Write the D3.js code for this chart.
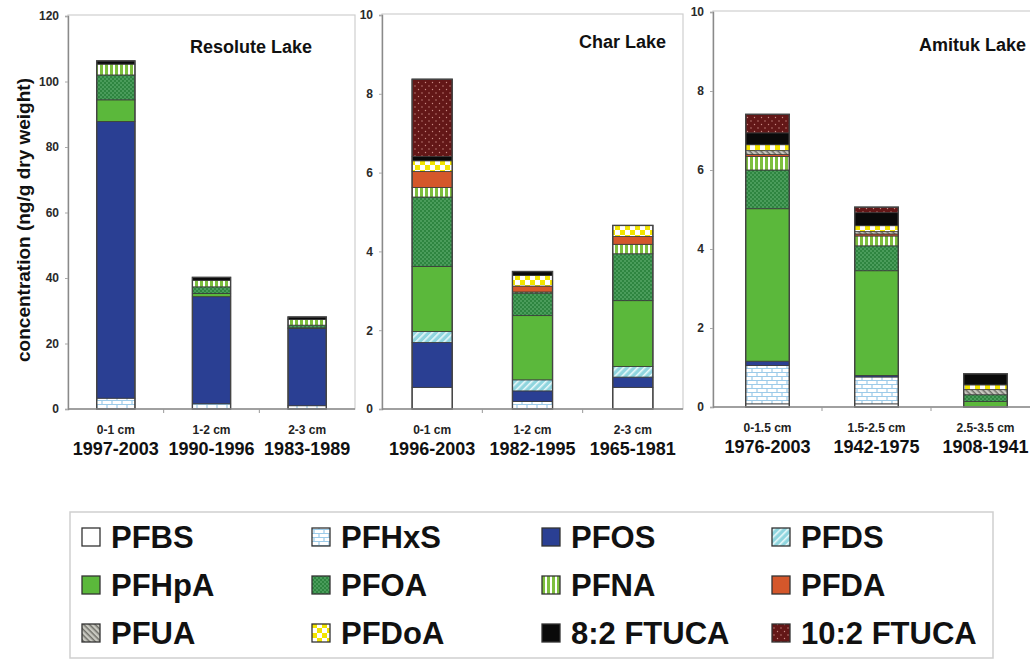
<!DOCTYPE html>
<html>
<head>
<meta charset="utf-8">
<script src="https://cdn.jsdelivr.net/npm/d3@7"></script>
<style>
  body { margin: 0; background: #fff; }
  text { font-family: "Liberation Sans", Arial, sans-serif; font-weight: bold; }
</style>
</head>
<body>
<div id="chart"></div>
<script>
// compounds, bottom to top of each stack
var compounds = ["PFBS", "PFHxS", "PFOS", "PFDS", "PFHpA", "PFOA", "PFNA", "PFDA", "PFUA", "PFDoA", "8:2 FTUCA", "10:2 FTUCA"];

// Resolute Lake
var resoluteDepths = ["0-1 cm", "1-2 cm", "2-3 cm"];
var resoluteYears = ["1997-2003", "1990-1996", "1983-1989"];
var resoluteValues = [
  [0, 3.3, 84.5, 0, 6.6, 7.6, 3.3, 0, 0, 0, 1.0, 0],
  [0, 1.6, 32.7, 0, 1.0, 2.0, 2.0, 0, 0, 0, 0.9, 0],
  [0, 1.0, 23.6, 0, 0.2, 0.8, 1.7, 0, 0, 0, 0.8, 0]
];

// Char Lake
var charDepths = ["0-1 cm", "1-2 cm", "2-3 cm"];
var charYears = ["1996-2003", "1982-1995", "1965-1981"];
var charValues = [
  [0.55, 0, 1.14, 0.28, 1.65, 1.76, 0.24, 0.41, 0, 0.27, 0.11, 1.96],
  [0, 0.19, 0.27, 0.28, 1.63, 0.57, 0.03, 0.15, 0, 0.27, 0.10, 0],
  [0.55, 0, 0.26, 0.27, 1.67, 1.19, 0.24, 0.20, 0, 0.28, 0, 0]
];

// Amituk Lake
var amitukDepths = ["0-1.5 cm", "1.5-2.5 cm", "2.5-3.5 cm"];
var amitukYears = ["1976-2003", "1942-1975", "1908-1941"];
var amitukValues = [
  [0.08, 0.97, 0.11, 0, 3.86, 0.98, 0.34, 0.05, 0.10, 0.15, 0.30, 0.47],
  [0.08, 0.68, 0.04, 0, 2.65, 0.63, 0.25, 0.05, 0.06, 0.15, 0.33, 0.14],
  [0, 0, 0, 0, 0.14, 0.17, 0, 0, 0.13, 0.12, 0.28, 0]
];

var ticks120 = [0, 20, 40, 60, 80, 100, 120];
var ticks10 = [0, 2, 4, 6, 8, 10];

var svgWidth = 1030;
var svgHeight = 660;

var svg = d3.select("#chart")
  .append("svg")
  .attr("width", svgWidth)
  .attr("height", svgHeight);

// fill patterns
var defs = svg.append("defs");

function pattern(id, w, h) {
  return defs.append("pattern")
    .attr("id", id)
    .attr("patternUnits", "userSpaceOnUse")
    .attr("width", w)
    .attr("height", h);
}

// PFHxS brick
var p = pattern("pfhxs", 10, 8);
p.append("rect").attr("width", 10).attr("height", 8).attr("fill", "#fff");
p.append("path").attr("d", "M0,0.5H10M0,4.5H10M2,0.5V4.5M7,4.5V8").attr("stroke", "#9ccbe9").attr("stroke-width", 1.2);

// PFDS diagonal
p = pattern("pfds", 5, 5).attr("patternTransform", "rotate(-45)");
p.append("rect").attr("width", 5).attr("height", 5).attr("fill", "#8fd5de");
p.append("rect").attr("width", 5).attr("height", 1.6).attr("fill", "#e8f8fa");

// PFOA dots
p = pattern("pfoa", 4, 4);
p.append("rect").attr("width", 4).attr("height", 4).attr("fill", "#2e8540");
p.append("circle").attr("cx", 1).attr("cy", 1).attr("r", 0.7).attr("fill", "#7cc48a");
p.append("circle").attr("cx", 3).attr("cy", 3).attr("r", 0.7).attr("fill", "#7cc48a");

// PFNA vertical stripes
p = pattern("pfna", 5, 5);
p.append("rect").attr("width", 5).attr("height", 5).attr("fill", "#fff");
p.append("rect").attr("width", 3).attr("height", 5).attr("fill", "#7dbf3e");

// PFUA diagonal gray
p = pattern("pfua", 4, 4).attr("patternTransform", "rotate(45)");
p.append("rect").attr("width", 4).attr("height", 4).attr("fill", "#c8c8c0");
p.append("rect").attr("width", 4).attr("height", 1.5).attr("fill", "#6f6f68");

// PFDoA checker
p = pattern("pfdoa", 10, 10);
p.append("rect").attr("width", 10).attr("height", 10).attr("fill", "#fff");
p.append("rect").attr("width", 5).attr("height", 5).attr("fill", "#f2e400");
p.append("rect").attr("x", 5).attr("y", 5).attr("width", 5).attr("height", 5).attr("fill", "#f2e400");

// 10:2 FTUCA dots
p = pattern("ft102", 7, 7);
p.append("rect").attr("width", 7).attr("height", 7).attr("fill", "#631717");
p.append("circle").attr("cx", 2).attr("cy", 2).attr("r", 0.7).attr("fill", "#c98a84");
p.append("circle").attr("cx", 5.5).attr("cy", 5.5).attr("r", 0.7).attr("fill", "#c98a84");

var fills = ["#ffffff", "url(#pfhxs)", "#2a3f93", "url(#pfds)", "#5bb83b", "url(#pfoa)",
  "url(#pfna)", "#d4572b", "url(#pfua)", "url(#pfdoa)", "#0a0a0a", "url(#ft102)"];

var color = d3.scaleOrdinal().domain(compounds).range(fills);

var panels = [
  { title: "Resolute Lake", depths: resoluteDepths, years: resoluteYears, values: resoluteValues,
    max: 120, ticks: ticks120, x0: 68, x1: 355, top: 16, bottom: 409, titleX: 190, titleY: 53, anchor: "start" },
  { title: "Char Lake", depths: charDepths, years: charYears, values: charValues,
    max: 10, ticks: ticks10, x0: 382, x1: 683, top: 15, bottom: 409, titleX: 666, titleY: 48, anchor: "end" },
  { title: "Amituk Lake", depths: amitukDepths, years: amitukYears, values: amitukValues,
    max: 10, ticks: ticks10, x0: 713, x1: 1040, top: 12, bottom: 407, titleX: 1026, titleY: 51, anchor: "end" }
];

panels.forEach(function(pn) {
  var g = svg.append("g");

  var x = d3.scaleBand()
    .domain(pn.depths)
    .range([pn.x0, pn.x1])
    .paddingInner(0.6)
    .paddingOuter(0.3);

  var y = d3.scaleLinear()
    .domain([0, pn.max])
    .range([pn.bottom, pn.top]);

  // frame
  g.append("rect")
    .attr("x", pn.x0)
    .attr("y", pn.top - 1)
    .attr("width", pn.x1 - pn.x0)
    .attr("height", pn.bottom - pn.top + 1)
    .attr("fill", "none")
    .attr("stroke", "#cfcfcf")
    .attr("stroke-width", 1.2);

  var rows = pn.values.map(function(v, i) {
    var r = { depth: pn.depths[i] };
    compounds.forEach(function(c, j) { r[c] = v[j]; });
    return r;
  });

  var series = d3.stack().keys(compounds)(rows);

  g.selectAll("g.layer")
    .data(series)
    .enter()
    .append("g")
    .attr("class", "layer")
    .attr("fill", d => color(d.key))
    .selectAll("rect")
    .data(d => d.filter(s => s[1] - s[0] > 0))
    .enter()
    .append("rect")
    .attr("x", d => x(d.data.depth))
    .attr("width", x.bandwidth())
    .attr("y", d => y(d[1]))
    .attr("height", d => y(d[0]) - y(d[1]))
    .attr("stroke", "#3a3a3a")
    .attr("stroke-width", 0.8);

  // outline of whole bar
  g.selectAll("rect.outline")
    .data(series[series.length - 1])
    .enter()
    .append("rect")
    .attr("class", "outline")
    .attr("x", d => x(d.data.depth))
    .attr("width", x.bandwidth())
    .attr("y", d => y(d[1]))
    .attr("height", d => y(0) - y(d[1]))
    .attr("fill", "none")
    .attr("stroke", "#444")
    .attr("stroke-width", 1.4);

  // y axis
  var yAxis = d3.axisLeft(y).tickValues(pn.ticks).tickSize(3).tickPadding(6);
  var ya = g.append("g")
    .attr("transform", `translate(${pn.x0}, 0)`)
    .call(yAxis);
  ya.select(".domain").attr("stroke", "#8a8a8a").attr("stroke-width", 1.4);
  ya.selectAll(".tick line").attr("stroke", "#aaa");
  ya.selectAll(".tick text")
    .attr("fill", "#2a2a2a")
    .style("font-size", "12px")
    .style("font-family", "'Liberation Sans', Arial, sans-serif")
    .style("font-weight", "bold");

  // x axis baseline with boundary ticks
  g.append("line")
    .attr("x1", pn.x0).attr("x2", pn.x1)
    .attr("y1", pn.bottom).attr("y2", pn.bottom)
    .attr("stroke", "#8a8a8a").attr("stroke-width", 1.4);
  g.selectAll("line.bound")
    .data(pn.depths.slice(1))
    .enter()
    .append("line")
    .attr("class", "bound")
    .attr("x1", d => x(d) - x.step() * x.paddingInner() / 2)
    .attr("x2", d => x(d) - x.step() * x.paddingInner() / 2)
    .attr("y1", pn.bottom).attr("y2", pn.bottom + 4)
    .attr("stroke", "#999");

  // category labels
  g.selectAll("text.depth")
    .data(pn.depths)
    .enter()
    .append("text")
    .attr("class", "depth")
    .attr("x", d => x(d) + x.bandwidth() / 2)
    .attr("y", pn.bottom + 25)
    .attr("text-anchor", "middle")
    .style("font-size", "12px")
    .attr("fill", "#222")
    .text(d => d);

  g.selectAll("text.year")
    .data(pn.years)
    .enter()
    .append("text")
    .attr("class", "year")
    .attr("x", (d, i) => x(pn.depths[i]) + x.bandwidth() / 2)
    .attr("y", pn.bottom + 46)
    .attr("text-anchor", "middle")
    .style("font-size", "18px")
    .attr("fill", "#111")
    .text(d => d);

  // lake title
  g.append("text")
    .attr("x", pn.titleX)
    .attr("y", pn.titleY)
    .attr("text-anchor", pn.anchor)
    .style("font-size", "18px")
    .attr("fill", "#111")
    .text(pn.title);
});

// y axis label
svg.append("text")
  .attr("transform", "translate(30, 220) rotate(-90)")
  .attr("text-anchor", "middle")
  .style("font-size", "19px")
  .attr("fill", "#111")
  .text("concentration (ng/g dry weight)");

// legend
var legend = svg.append("g");
legend.append("rect")
  .attr("x", 70).attr("y", 512)
  .attr("width", 923).attr("height", 146)
  .attr("fill", "#fff")
  .attr("stroke", "#cfcfcf")
  .attr("stroke-width", 1.5);

var colX = [82, 312, 542, 772];
var rowY = [537, 585, 633];

var items = legend.selectAll("g.item")
  .data(compounds)
  .enter()
  .append("g")
  .attr("class", "item")
  .attr("transform", (d, i) => `translate(${colX[i % 4]}, ${rowY[Math.floor(i / 4)]})`);

items.append("rect")
  .attr("x", 0).attr("y", -9)
  .attr("width", 18).attr("height", 18)
  .attr("fill", d => color(d))
  .attr("stroke", "#333")
  .attr("stroke-width", 1.3);

items.append("text")
  .attr("x", 29)
  .attr("y", 11)
  .style("font-size", "31px")
  .attr("fill", "#111")
  .text(d => d);
</script>
</body>
</html>
